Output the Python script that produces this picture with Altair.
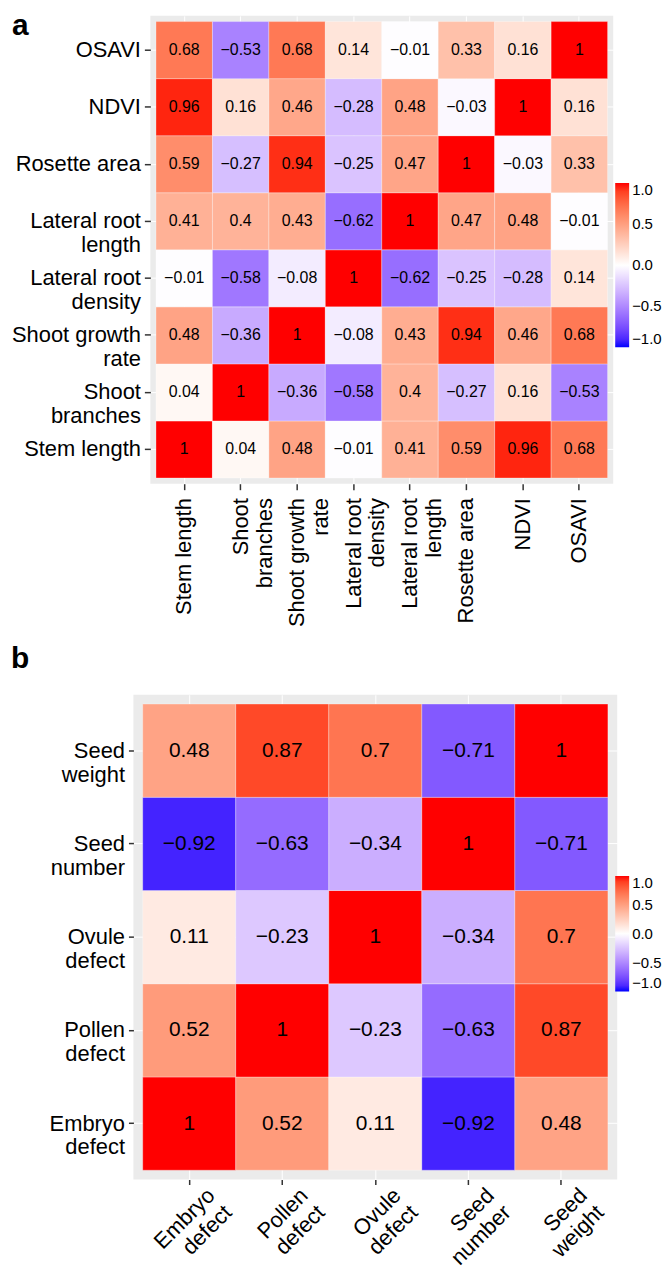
import altair as alt
import pandas as pd

# ---------------- data ----------------
vars_a = ["Stem length", "Shoot|branches", "Shoot growth|rate", "Lateral root|density",
          "Lateral root|length", "Rosette area", "NDVI", "OSAVI"]
corr_stem_length = [1, 0.04, 0.48, -0.01, 0.41, 0.59, 0.96, 0.68]
corr_shoot_branches = [0.04, 1, -0.36, -0.58, 0.4, -0.27, 0.16, -0.53]
corr_shoot_growth_rate = [0.48, -0.36, 1, -0.08, 0.43, 0.94, 0.46, 0.68]
corr_lateral_root_density = [-0.01, -0.58, -0.08, 1, -0.62, -0.25, -0.28, 0.14]
corr_lateral_root_length = [0.41, 0.4, 0.43, -0.62, 1, 0.47, 0.48, -0.01]
corr_rosette_area = [0.59, -0.27, 0.94, -0.25, 0.47, 1, -0.03, 0.33]
corr_ndvi = [0.96, 0.16, 0.46, -0.28, 0.48, -0.03, 1, 0.16]
corr_osavi = [0.68, -0.53, 0.68, 0.14, -0.01, 0.33, 0.16, 1]

vars_b = ["Embryo|defect", "Pollen|defect", "Ovule|defect", "Seed|number", "Seed|weight"]
corr_embryo_defect = [1, 0.52, 0.11, -0.92, 0.48]
corr_pollen_defect = [0.52, 1, -0.23, -0.63, 0.87]
corr_ovule_defect = [0.11, -0.23, 1, -0.34, 0.7]
corr_seed_number = [-0.92, -0.63, -0.34, 1, -0.71]
corr_seed_weight = [0.48, 0.87, 0.7, -0.71, 1]

legend_values = [-1.0, -0.5, 0.0, 0.5, 1.0]

rows_a = [corr_stem_length, corr_shoot_branches, corr_shoot_growth_rate,
          corr_lateral_root_density, corr_lateral_root_length, corr_rosette_area,
          corr_ndvi, corr_osavi]
rows_b = [corr_embryo_defect, corr_pollen_defect, corr_ovule_defect,
          corr_seed_number, corr_seed_weight]


def long_df(cats, rows):
    recs = []
    for yi, row in zip(cats, rows):
        for xi, v in zip(cats, row):
            recs.append({"xv": xi, "yv": yi, "r": v})
    return pd.DataFrame(recs)


df_a = long_df(vars_a, rows_a)
df_b = long_df(vars_b, rows_b)

FONT = "Liberation Sans"
color_scale = alt.Scale(domain=[-1, 0, 1], range=["#0000FF", "#FFFFFF", "#FF0000"],
                        interpolate="lab")

common_axis = dict(title=None, domain=False, grid=True, gridColor="white", gridWidth=1,
                   zindex=0, bandPosition=0.5, tickColor="#333333", tickWidth=1.5,
                   labelFont=FONT, labelColor="black",
                   labelExpr="split(datum.value, '|')",
                   labelOverlap=False, labelBound=False, labelFlush=False)


def panel(df, cats, width, height, cell_font, x_axis, y_axis, legend, letter, lx, ly):
    band = alt.Scale(paddingInner=0, paddingOuter=0.1)
    x = alt.X("xv:N", sort=cats, scale=band, axis=alt.Axis(**common_axis, **x_axis))
    y = alt.Y("yv:N", sort=cats[::-1], scale=band, axis=alt.Axis(**common_axis, **y_axis))
    base = alt.Chart(df)
    rect = base.mark_rect(stroke="white", strokeWidth=0.6, strokeOpacity=0.5).encode(
        x=x, y=y,
        color=alt.Color("r:Q", scale=color_scale, legend=alt.Legend(**legend)))
    text = base.mark_text(font=FONT, fontSize=cell_font, color="black").encode(
        x=x, y=y, text=alt.Text("r:Q", format=".2~f"))
    tag = alt.Chart(pd.DataFrame({"t": [letter]})).mark_text(
        font=FONT, fontSize=30, fontWeight="bold", align="left", baseline="top",
        color="black").encode(text="t:N", x=alt.value(lx), y=alt.value(ly))
    return alt.layer(rect, text, tag).properties(width=width, height=height)


def spacer():
    # invisible, tiny first cell: the panel that follows is then placed by the
    # left edge of its labels rather than by its plot origin
    return alt.Chart(pd.DataFrame({"s": [0]})).mark_rect(opacity=0).encode(
        x=alt.value(0), x2=alt.value(1), y=alt.value(0), y2=alt.value(1)
    ).properties(width=1, height=1,
                 view=alt.ViewBackground(fill="transparent", stroke="transparent"))


legend_common = dict(title=None, orient="none", direction="vertical",
                     values=legend_values, format=".1f", labelFont=FONT,
                     labelFontSize=15, labelColor="black", labelOffset=3,
                     labelBaseline="middle", labelOverlap=False, padding=0,
                     gradientStrokeWidth=0, gradientThickness=14)

pa = panel(
    df_a, vars_a, 465, 470, 16,
    x_axis=dict(labelAngle=270, labelAlign="right", labelBaseline="middle",
                tickSize=6, labelPadding=8, labelFontSize=22, labelLineHeight=24,
                minExtent=150),
    y_axis=dict(labelAlign="right", labelBaseline="middle", tickSize=6, labelPadding=4,
                labelFontSize=22, labelLineHeight=24, minExtent=139),
    legend=dict(**legend_common, legendX=467, legendY=168, gradientLength=165),
    letter="a", lx=-139, ly=-5,
)

pb = panel(
    df_b, vars_b, 486, 487, 21,
    x_axis=dict(labelAngle=315, labelAlign="right", labelBaseline="top",
                tickSize=5, labelPadding=0, labelOffset=15, labelFontSize=22,
                labelLineHeight=24),
    y_axis=dict(labelAlign="right", labelBaseline="middle", tickSize=5, labelPadding=4,
                labelFontSize=22, labelLineHeight=24, minExtent=123),
    legend=dict(**legend_common, legendX=484, legendY=182, gradientLength=116),
    letter="b", lx=-123, ly=-51,
)

row_a = (alt.hconcat(spacer(), pa, spacing=0)
         .resolve_scale(color="independent").resolve_legend(color="independent"))
row_b = (alt.hconcat(spacer(), pb, spacing=0)
         .resolve_scale(color="independent").resolve_legend(color="independent"))

chart = (
    alt.vconcat(row_a, row_b, spacing=11)
    .resolve_scale(color="independent")
    .resolve_legend(color="independent")
    .properties(padding=0)
    .configure_view(stroke=None, fill="#EBEBEB")
)

chart.save("out.html", embed_options={"renderer": "svg", "actions": False})
